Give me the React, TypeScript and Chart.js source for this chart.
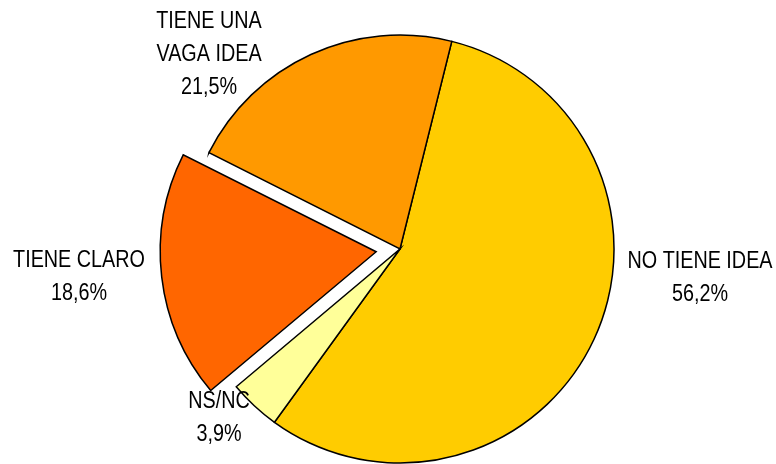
import React, { useEffect, useRef } from "react";
import { Chart, registerables } from "chart.js";

Chart.register(...registerables);

const categories = ["NO TIENE IDEA", "NS/NC", "TIENE CLARO", "TIENE UNA VAGA IDEA"];
const values = [56.2, 3.9, 18.6, 21.5];
const valueLabels = ["56,2%", "3,9%", "18,6%", "21,5%"];
const labelLines = [["NO TIENE IDEA"], ["NS/NC"], ["TIENE CLARO"], ["TIENE UNA", "VAGA IDEA"]];
const colors = ["#FFCC00", "#FFFF99", "#FF6600", "#FF9900"];
// Chart.js 4 draws an arc's offset at a quarter of its value: 96 -> 24px
const offsets = [0, 0, 96, 0];
// label block centres relative to the pie centre (px)
const labelPos: [number, number][] = [
  [300, 29],
  [-181, 169],
  [-321, 28],
  [-191, -194],
];

const labelPlugin = {
  id: "sliceLabels",
  afterDraw(chart: any) {
    const meta = chart.getDatasetMeta(0);
    const arc = meta.data[0];
    if (!arc) return;
    const cx = arc.x;
    const cy = arc.y;
    const ctx = chart.ctx;
    const lh = 33;
    ctx.save();
    ctx.fillStyle = "#000";
    ctx.textAlign = "center";
    ctx.textBaseline = "middle";
    ctx.font = "23px 'Liberation Sans', Arial, sans-serif";
    categories.forEach((_, i) => {
      const lines = [...labelLines[i], valueLabels[i]];
      const [dx, dy] = labelPos[i];
      const bx = cx + dx;
      const by = cy + dy;
      const top = by - ((lines.length - 1) * lh) / 2;
      lines.forEach((t, j) => {
        ctx.save();
        ctx.translate(bx, top + j * lh);
        ctx.scale(0.86, 1);
        ctx.fillText(t, 0, 0);
        ctx.restore();
      });
    });
    ctx.restore();
  },
};

export default function App() {
  const ref = useRef<HTMLCanvasElement>(null);
  useEffect(() => {
    document.body.style.margin = "0";
    const canvas = ref.current!;
    const chart = new Chart(canvas, {
      type: "pie",
      data: {
        labels: categories,
        datasets: [
          {
            data: values,
            backgroundColor: colors,
            borderColor: "#000",
            borderWidth: 1.5,
            borderJoinStyle: "miter",
            offset: offsets,
            hoverOffset: 0,
          },
        ],
      },
      options: {
        responsive: false,
        animation: false,
        devicePixelRatio: 1,
        rotation: 14,
        radius: 214,
        layout: { padding: { left: 24, right: 0, top: 34, bottom: 0 } },
        plugins: {
          legend: { display: false },
          tooltip: { enabled: false },
        },
      } as any,
      plugins: [labelPlugin],
    });
    return () => chart.destroy();
  }, []);
  return (
    <div style={{ width: 776, height: 464, background: "#fff" }}>
      <canvas ref={ref} width={776} height={464} />
    </div>
  );
}
